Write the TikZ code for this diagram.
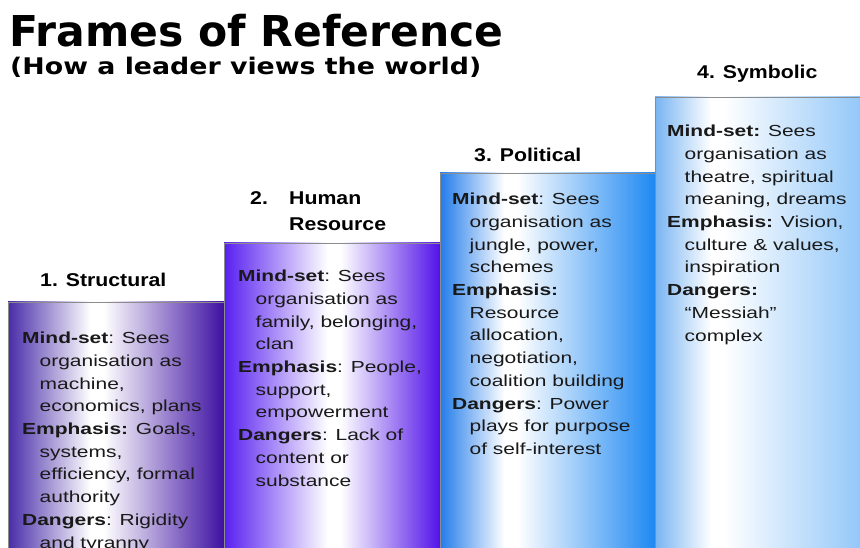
\documentclass[tikz,border=0pt]{standalone}
\usepackage{fontspec}
\setmainfont{Liberation Sans}
\newfontfamily\titlefont{DejaVu Sans}
\newfontfamily\subfont[FakeStretch=1.17]{DejaVu Sans}
\newfontfamily\headfont[FakeStretch=1.15]{Liberation Sans}
\newfontfamily\bodyfont[FakeStretch=1.31]{Liberation Sans}
\definecolor{b1l}{RGB}{72,44,168}
\definecolor{b1r}{RGB}{60,14,160}
\definecolor{b2l}{RGB}{88,32,240}
\definecolor{b2r}{RGB}{82,18,232}
\definecolor{b3l}{RGB}{34,124,234}
\definecolor{b3r}{RGB}{30,136,242}
\definecolor{b4l}{RGB}{120,180,242}
\definecolor{b4r}{RGB}{140,196,248}
\definecolor{boxline}{RGB}{140,140,140}
\definecolor{txt}{RGB}{25,25,25}
\pgfdeclarehorizontalshading{shone}{100bp}{color(0bp)=(b1l); color(25bp)=(b1l); color(44bp)=(white); color(47bp)=(white); color(75bp)=(b1r); color(100bp)=(b1r)}
\pgfdeclarehorizontalshading{shtwo}{100bp}{color(0bp)=(b2l); color(25bp)=(b2l); color(49bp)=(white); color(52bp)=(white); color(75bp)=(b2r); color(100bp)=(b2r)}
\pgfdeclarehorizontalshading{shthree}{100bp}{color(0bp)=(b3l); color(25bp)=(b3l); color(40bp)=(white); color(43bp)=(white); color(75bp)=(b3r); color(100bp)=(b3r)}
\pgfdeclarehorizontalshading{shfour}{100bp}{color(0bp)=(b4l); color(25bp)=(b4l); color(38bp)=(white); color(41bp)=(white); color(75bp)=(b4r); color(100bp)=(b4r)}
\newcommand{\lab}[1]{\textbf{#1}}
\newcommand{\ind}{\hspace*{17.5pt}}
\begin{document}
\begin{tikzpicture}[x=1pt,y=-1pt,
  boxborder/.style={draw=boxline, line width=0.8pt},
  body/.style={anchor=north west, inner sep=0pt, align=left, text=txt,
    font=\bodyfont\fontsize{16}{22.7}\selectfont},
  head/.style={inner sep=0pt, text=black,
    font=\headfont\bfseries\fontsize{18.5}{26}\selectfont}]
\useasboundingbox (0,0) rectangle (860,548);
\clip (0,0) rectangle (860,548);
\fill[white] (0,0) rectangle (860,548);
% boxes
\shadedraw[shading=shone, boxborder] (8,302) rectangle (225,570);
\shadedraw[shading=shtwo, boxborder] (224,243) rectangle (440,570);
\shadedraw[shading=shthree, boxborder] (440,173) rectangle (655,570);
\shadedraw[shading=shfour, boxborder] (655,97) rectangle (870,570);
% title
\node[anchor=base west, inner sep=0pt, font=\titlefont\bfseries\fontsize{42.5}{50}\selectfont] (title) at (9,47) {Frames of Reference};
\node[anchor=base west, inner sep=0pt, font=\subfont\bfseries\fontsize{22.9}{28}\selectfont] (subtitle) at (10,75) {(How a leader views the world)};
% headings
\node[head, anchor=base west] (h1) at (40,287) {1. Structural};
\node[head, anchor=base west] (h2n) at (250,204.6) {2.};
\node[head, anchor=north west, align=left] (h2) at (289,191.4) {Human\\Resource};
\node[head, anchor=base west] (h3) at (474,161.7) {3. Political};
\node[head, anchor=base west] (h4) at (697,78.7) {4. Symbolic};
% body texts
\node[body] (t1) at (22,332) {\lab{Mind-set}: Sees\\ \ind organisation as\\ \ind machine,\\ \ind economics, plans\\
\lab{Emphasis:} Goals,\\ \ind systems,\\ \ind efficiency, formal\\ \ind authority\\
\lab{Dangers}: Rigidity\\ \ind and tyranny};
\node[body] (t2) at (238,270) {\lab{Mind-set}: Sees\\ \ind organisation as\\ \ind family, belonging,\\ \ind clan\\
\lab{Emphasis}: People,\\ \ind support,\\ \ind empowerment\\
\lab{Dangers}: Lack of\\ \ind content or\\ \ind substance};
\node[body] (t3) at (452,193) {\lab{Mind-set}: Sees\\ \ind organisation as\\ \ind jungle,  power,\\ \ind schemes\\
\lab{Emphasis:}\\ \ind Resource\\ \ind allocation,\\ \ind negotiation,\\ \ind coalition building\\
\lab{Dangers}: Power\\ \ind plays for purpose\\ \ind of self-interest};
\node[body] (t4) at (667,125) {\lab{Mind-set:} Sees\\ \ind organisation as\\ \ind theatre, spiritual\\ \ind meaning,  dreams\\
\lab{Emphasis:} Vision,\\ \ind culture \& values,\\ \ind inspiration\\
\lab{Dangers:}\\ \ind “Messiah”\\ \ind complex};
\end{tikzpicture}
\end{document}
